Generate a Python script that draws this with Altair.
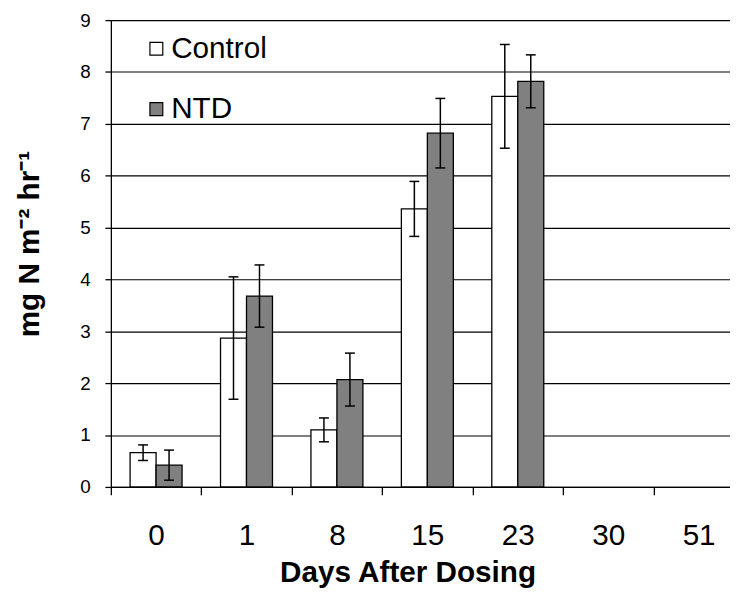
import altair as alt
import pandas as pd

days = ["0", "1", "8", "15", "23", "30", "51"]
measured_days = ["0", "1", "8", "15", "23"]
treatments = ["Control", "NTD"]
control_mean = [0.66, 2.87, 1.10, 5.36, 7.53]
control_err = [0.15, 1.18, 0.23, 0.53, 1.00]
ntd_mean = [0.42, 3.68, 2.07, 6.82, 7.82]
ntd_err = [0.29, 0.60, 0.51, 0.67, 0.51]
y_ticks = [0, 1, 2, 3, 4, 5, 6, 7, 8, 9]

rows = []
for i, d in enumerate(measured_days):
    rows.append({"day": d, "treatment": "Control", "value": control_mean[i],
                 "lo": control_mean[i] - control_err[i], "hi": control_mean[i] + control_err[i]})
    rows.append({"day": d, "treatment": "NTD", "value": ntd_mean[i],
                 "lo": ntd_mean[i] - ntd_err[i], "hi": ntd_mean[i] + ntd_err[i]})
df = pd.DataFrame(rows)

FONT = "Liberation Sans"
YTITLE = "mg N m\u207b\u00b2 hr\u207b\u00b9"

x_enc = alt.X(
    "day:N",
    scale=alt.Scale(domain=days, range=[0, 640], paddingInner=0, paddingOuter=0),
    sort=days,
    title="Days After Dosing",
    axis=alt.Axis(
        labelAngle=0, labelFontSize=30, labelFont=FONT, labelColor="black",
        labelBaseline="alphabetic", labelPadding=50,
        tickBand="extent", tickSize=8, tickColor="black", tickWidth=1.3,
        domainColor="black", domainWidth=1.3,
        titleFontSize=30, titleFont=FONT, titleFontWeight="bold", titleColor="black",
        titleX=300, titleY=96, titleBaseline="alphabetic", titleAnchor="start",
        titleAlign="center",
    ),
)
xo_enc = alt.XOffset("treatment:N",
                     scale=alt.Scale(domain=treatments, paddingInner=0, paddingOuter=0.74))

y_axis = alt.Axis(
    values=y_ticks, grid=True, gridColor="black", gridWidth=1.2, gridOpacity=1,
    labelFontSize=19, labelFont=FONT, labelColor="black", labelPadding=15,
    tickSize=6, tickColor="black", tickWidth=1.3,
    domainColor="black", domainWidth=1.3,
    titleFontSize=30, titleFont=FONT, titleFontWeight="bold", titleColor="black",
    titleAngle=-90, titleX=-82, titleY=226, titleBaseline="middle", titleAlign="center",
)
y_scale = alt.Scale(domain=[0, 9], nice=False)

bars = alt.Chart(df).mark_bar(stroke="black", strokeWidth=1.3).encode(
    x=x_enc,
    xOffset=xo_enc,
    y=alt.Y("value:Q", scale=y_scale, axis=y_axis, title=YTITLE),
    fill=alt.Fill(
        "treatment:N",
        scale=alt.Scale(domain=treatments, range=["white", "#808080"]),
        legend=alt.Legend(
            title=None, orient="none", legendX=31, legendY=14,
            symbolType="square", symbolSize=169, symbolStrokeColor="black",
            symbolStrokeWidth=1.2, labelFontSize=30, labelFont=FONT, labelColor="black",
            labelOffset=0, rowPadding=31, padding=0,
        ),
    ),
)

rules = alt.Chart(df).mark_rule(color="black", strokeWidth=1.5).encode(
    x=x_enc, xOffset=xo_enc,
    y=alt.Y("lo:Q", scale=y_scale, axis=y_axis, title=YTITLE),
    y2="hi:Q",
)
cap_hi = alt.Chart(df).mark_tick(color="black", thickness=1.5, size=10, opacity=1).encode(
    x=x_enc, xOffset=xo_enc,
    y=alt.Y("hi:Q", scale=y_scale, axis=y_axis, title=YTITLE),
)
cap_lo = alt.Chart(df).mark_tick(color="black", thickness=1.5, size=10, opacity=1).encode(
    x=x_enc, xOffset=xo_enc,
    y=alt.Y("lo:Q", scale=y_scale, axis=y_axis, title=YTITLE),
)

chart = alt.layer(bars, rules, cap_hi, cap_lo).properties(
    width=626, height=472,
    autosize=alt.AutoSizeParams(type="none"),
    padding={"left": 104, "top": 9, "right": 0, "bottom": 104},
    background="white",
).configure_view(stroke=None)

chart.save("out.html", embed_options={"renderer": "svg", "actions": False})
